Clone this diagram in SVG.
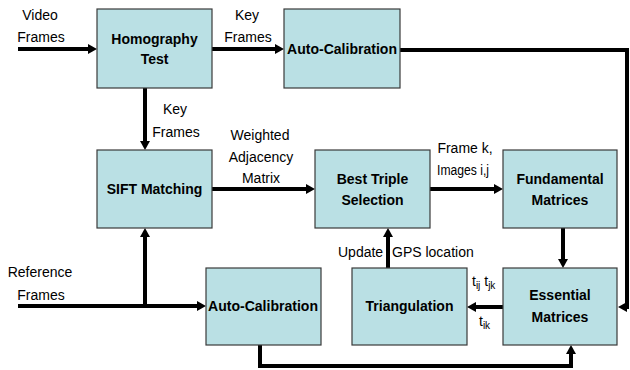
<svg xmlns="http://www.w3.org/2000/svg" width="630" height="370" viewBox="0 0 630 370">
<style>
.box{fill:#BAE0E4;stroke:#3a3a3a;stroke-width:1.2}
.lbl{font-family:"Liberation Sans",Arial,sans-serif;font-size:14px;font-weight:bold;fill:#000;text-anchor:middle}
.txt{font-family:"Liberation Sans",Arial,sans-serif;font-size:14px;fill:#000}
.mid{text-anchor:middle}
.sub{font-size:10px;fill:#000}
.con{fill:none;stroke:#000;stroke-width:4;stroke-linejoin:miter}
</style>
<defs>
<marker id="ah" viewBox="0 0 9 10" markerWidth="9" markerHeight="10" refX="3" refY="5" orient="auto" markerUnits="userSpaceOnUse">
<path d="M0,0 L9,5 L0,10 Z" fill="#000"/>
</marker>
</defs>
<rect width="630" height="370" fill="#fff"/>
<g id="connectors">
<path class="con" d="M18,49 H91" marker-end="url(#ah)"/>
<path class="con" d="M212,49 H278" marker-end="url(#ah)"/>
<path class="con" d="M145,88 V144" marker-end="url(#ah)"/>
<path class="con" d="M212,189 H309" marker-end="url(#ah)"/>
<path class="con" d="M430,189 H497" marker-end="url(#ah)"/>
<path class="con" d="M563,228 V262" marker-end="url(#ah)"/>
<path class="con" d="M400,50 H627 V307 H624" marker-end="url(#ah)"/>
<path class="con" d="M503,307 H473" marker-end="url(#ah)"/>
<path class="con" d="M388,268 V234" marker-end="url(#ah)"/>
<path class="con" d="M18,306 H200" marker-end="url(#ah)"/>
<path class="con" d="M145,306 V234" marker-end="url(#ah)"/>
<path class="con" d="M260,345 V366 H571 V351" marker-end="url(#ah)"/>
</g>
<g id="labels">
<text class="txt mid" x="40" y="20">Video</text>
<text class="txt mid" x="41" y="42">Frames</text>
<text class="txt mid" x="247" y="20">Key</text>
<text class="txt mid" x="248" y="42">Frames</text>
<text class="txt mid" x="175" y="114">Key</text>
<text class="txt mid" x="176" y="137">Frames</text>
<text class="txt mid" x="260" y="140">Weighted</text>
<text class="txt mid" x="261" y="162">Adjacency</text>
<text class="txt mid" x="261" y="183">Matrix</text>
<text class="txt mid" x="465" y="153">Frame k,</text>
<text class="txt" x="437" y="175" textLength="52" lengthAdjust="spacingAndGlyphs">Images i,j</text>
<text class="txt" x="338" y="257">Update</text>
<text class="txt" x="392" y="257">GPS location</text>
<text class="txt" x="472" y="286">t<tspan class="sub" dy="3">ij</tspan><tspan dy="-3"> t</tspan><tspan class="sub" dy="3">jk</tspan></text>
<text class="txt" x="479" y="326">t<tspan class="sub" dy="3">ik</tspan></text>
<text class="txt mid" x="40" y="277">Reference</text>
<text class="txt mid" x="41" y="300">Frames</text>
</g>
<g id="homography">
<rect class="box" x="97" y="9" width="115" height="79"/>
<text class="lbl" x="154.5" y="44">Homography</text>
<text class="lbl" x="154.5" y="64">Test</text>
</g>
<g id="autocal-top">
<rect class="box" x="284" y="9" width="116" height="79"/>
<text class="lbl" x="342" y="54" textLength="110" lengthAdjust="spacingAndGlyphs">Auto-Calibration</text>
</g>
<g id="sift">
<rect class="box" x="97" y="150" width="115" height="78"/>
<text class="lbl" x="154.5" y="194">SIFT Matching</text>
</g>
<g id="best-triple">
<rect class="box" x="315" y="150" width="115" height="78"/>
<text class="lbl" x="372.5" y="184">Best Triple</text>
<text class="lbl" x="372.5" y="205">Selection</text>
</g>
<g id="fundamental">
<rect class="box" x="503" y="150" width="114" height="78"/>
<text class="lbl" x="560" y="184">Fundamental</text>
<text class="lbl" x="560" y="205">Matrices</text>
</g>
<g id="essential">
<rect class="box" x="503" y="268" width="114" height="77"/>
<text class="lbl" x="560" y="300">Essential</text>
<text class="lbl" x="560" y="322">Matrices</text>
</g>
<g id="triangulation">
<rect class="box" x="352" y="268" width="115" height="77"/>
<text class="lbl" x="409.5" y="311">Triangulation</text>
</g>
<g id="autocal-bottom">
<rect class="box" x="206" y="268" width="115" height="77"/>
<text class="lbl" x="263" y="311" textLength="110" lengthAdjust="spacingAndGlyphs">Auto-Calibration</text>
</g>
</svg>
